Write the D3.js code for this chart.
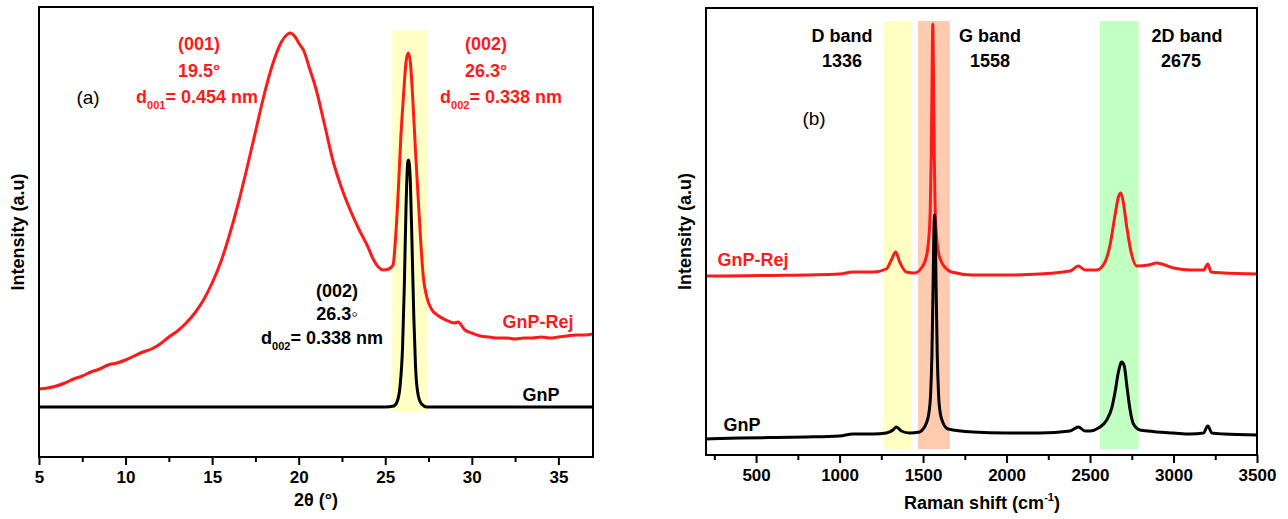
<!DOCTYPE html>
<html>
<head>
<meta charset="utf-8">
<script src="https://cdn.jsdelivr.net/npm/d3@7"></script>
<style>
  body { margin: 0; background: #fff; }
  svg { display: block; }
  text { font-family: "Liberation Sans", Arial, sans-serif; }
</style>
</head>
<body>
<svg id="fig" width="1288" height="519"></svg>
<script>
// ---- XRD panel (a) ----
var xrdTicks = [5, 10, 15, 20, 25, 30, 35];
var xrdMinor = [7.5, 12.5, 17.5, 22.5, 27.5, 32.5];
var xrdBand = [25.4, 27.45];

var xrdRejTheta = [5.0, 5.5, 6.0, 6.5, 7.0, 7.5, 8.0, 8.5, 9.0, 9.5, 10.0, 10.5, 11.0, 11.5, 12.0, 12.5,
  13.0, 13.5, 14.0, 14.5, 15.0, 15.5, 16.0, 16.5, 17.0, 17.5, 18.0, 18.5, 19.0, 19.3, 19.5, 19.8,
  20.0, 20.3, 20.6, 21.0, 21.5, 22.0, 22.5, 23.0, 23.5, 24.0, 24.3, 24.6, 24.9, 25.2, 25.45, 25.6,
  25.75, 25.9, 26.05, 26.2, 26.33, 26.45, 26.6, 26.75, 26.9, 27.05, 27.2, 27.4, 27.7, 28.0, 28.5,
  29.0, 29.2, 29.6, 30.0, 30.5, 31.0, 31.5, 32.0, 32.5, 33.0, 33.5, 34.0, 34.5, 35.0, 35.5, 36.0, 36.5, 37.0];
var xrdRejInt = [18, 19, 21, 24, 28, 31, 35, 38, 42, 44, 47, 51, 55, 58, 63, 70,
  76, 84, 94, 107, 124, 145, 172, 203, 238, 275, 312, 343, 365, 372, 374, 370,
  364, 356, 340, 318, 282, 245, 218, 196, 177, 160, 148, 140, 137, 138, 142, 170,
  215, 270, 310, 345, 354, 345, 305, 255, 210, 165, 130, 110, 97, 92, 87,
  84, 85, 77, 74, 71, 70, 69, 69, 68, 69, 69, 70, 69, 70, 71, 72, 72, 73];

var xrdGnpTheta = [5, 25.0, 25.5, 25.7, 25.85, 26.0, 26.1, 26.2, 26.3, 26.35, 26.45, 26.55, 26.65, 26.75, 26.9, 27.1, 27.4, 37];
var xrdGnpInt = [0, 0, 1, 6, 20, 60, 120, 200, 245, 247, 225, 160, 90, 40, 12, 3, 0, 0];

// ---- Raman panel (b) ----
var ramanTicks = [500, 1000, 1500, 2000, 2500, 3000, 3500];
var ramanMinor = [250, 750, 1250, 1750, 2250, 2750, 3250];
var ramanBands = [[1265, 1430], [1470, 1660], [2560, 2790]];

var ramanGnpShift = [200, 400, 600, 800, 1000, 1080, 1200, 1280, 1320, 1340, 1370, 1420, 1480, 1500, 1520,
  1535, 1545, 1553, 1560, 1565, 1569, 1573, 1578, 1585, 1593, 1603, 1620, 1650, 1800, 2000, 2200,
  2380, 2430, 2470, 2500, 2550, 2600, 2630, 2650, 2670, 2690, 2705, 2720, 2740, 2760, 2800, 2850,
  2900, 3000, 3100, 3180, 3205, 3230, 3300, 3500];
var ramanGnpInt = [16, 17, 17.5, 18, 19, 21, 21, 22, 25, 28, 24, 22, 23, 26, 32,
  42, 60, 100, 170, 225, 240, 225, 170, 100, 60, 42, 32, 26, 23, 22, 22,
  24, 28, 24, 24, 27, 35, 47, 63, 83, 93, 89, 70, 45, 31, 25, 24,
  23, 22, 21, 22, 29, 22, 21, 20];

var ramanRejShift = [200, 600, 1000, 1080, 1200, 1280, 1310, 1336, 1360, 1400, 1450, 1490, 1510, 1525,
  1535, 1543, 1549, 1553, 1556, 1558, 1560, 1563, 1567, 1572, 1580, 1592, 1610, 1635, 1670, 1800,
  2000, 2200, 2380, 2430, 2470, 2540, 2590, 2620, 2650, 2670, 2685, 2700, 2720, 2750, 2780, 2850,
  2900, 3000, 3100, 3180, 3205, 3225, 3300, 3500];
var ramanRejInt = [179, 179.5, 181, 183, 183, 186, 195, 203, 193, 183, 182, 187, 193, 203,
  218, 245, 300, 360, 410, 431, 420, 370, 300, 250, 220, 203, 193, 187, 183, 180,
  180, 181, 184, 189, 185, 185, 193, 210, 240, 258, 262, 252, 228, 200, 189, 190,
  192, 187, 185, 185, 191, 183, 182, 181];

var svg = d3.select("#fig");
var RED = "#ff1a1a";

function zip(xs, ys) { return xs.map(function (x, i) { return [x, ys[i]]; }); }

function panel(cfg) {
  var g = svg.append("g");
  var x = d3.scaleLinear().domain(cfg.xDomain).range([cfg.left, cfg.right]);
  var y = d3.scaleLinear().domain(cfg.yDomain).range([cfg.bottom, cfg.top]);
  var id = "clip" + cfg.name;
  g.append("clipPath").attr("id", id).append("rect")
    .attr("x", cfg.left).attr("y", cfg.top)
    .attr("width", cfg.right - cfg.left).attr("height", cfg.bottom - cfg.top);

  // shaded bands
  cfg.bands.forEach(function (b, i) {
    g.append("rect")
      .attr("x", x(b[0])).attr("width", x(b[1]) - x(b[0]))
      .attr("y", cfg.bandTop).attr("height", cfg.bandBottom - cfg.bandTop)
      .attr("fill", cfg.bandColors[i]);
  });

  var line = d3.line().x(function (d) { return x(d[0]); }).y(function (d) { return y(d[1]); })
    .curve(d3.curveMonotoneX);
  var lines = g.append("g").attr("clip-path", "url(#" + id + ")");
  cfg.series.forEach(function (s) {
    lines.append("path").attr("d", line(s.pts)).attr("fill", "none")
      .attr("stroke", s.color).attr("stroke-width", 3).attr("stroke-linejoin", "round");
  });

  // frame
  g.append("rect").attr("x", cfg.left).attr("y", cfg.top)
    .attr("width", cfg.right - cfg.left).attr("height", cfg.bottom - cfg.top)
    .attr("fill", "none").attr("stroke", "#000").attr("stroke-width", 2);

  var ax = g.append("g").attr("transform", "translate(0," + cfg.bottom + ")")
    .call(d3.axisBottom(x).tickValues(cfg.ticks).tickSize(8).tickPadding(6).tickFormat(d3.format("d")));
  ax.select(".domain").remove();
  ax.selectAll("line").attr("stroke-width", 2);
  ax.selectAll("text").attr("font-size", 17).attr("font-weight", "bold").attr("fill", "#000")
    .attr("font-family", "'Liberation Sans', Arial, sans-serif");
  var mn = g.append("g").attr("transform", "translate(0," + cfg.bottom + ")")
    .call(d3.axisBottom(x).tickValues(cfg.minor).tickSize(5).tickFormat(""));
  mn.select(".domain").remove();
  mn.selectAll("line").attr("stroke-width", 2);

  // y title
  g.append("text").attr("transform", "translate(" + cfg.yTitleX + "," + (cfg.top + cfg.bottom) / 2 + ") rotate(-90)")
    .attr("text-anchor", "middle").attr("font-size", 18).attr("font-weight", "bold").text("Intensity (a.u)");
  return g;
}

function label(g, x, y, txt, color, opts) {
  opts = opts || {};
  var t = g.append("text").attr("x", x).attr("y", y).attr("fill", color)
    .attr("font-size", opts.size || 18).attr("font-weight", opts.weight || "bold")
    .attr("text-anchor", opts.anchor || "middle");
  if (opts.font) t.attr("font-family", opts.font);
  if (opts.sub) {
    t.append("tspan").text(txt);
    t.append("tspan").attr("font-size", 11).attr("dy", 6).text(opts.sub);
    t.append("tspan").attr("dy", -6).text(opts.rest);
  } else {
    t.text(txt);
  }
  return t;
}

// ----- panel (a)
var ga = panel({
  name: "a", left: 39, right: 593, top: 7, bottom: 457,
  xDomain: [5, 37], yDomain: [-50, 400],
  ticks: xrdTicks, minor: xrdMinor,
  bands: [xrdBand], bandColors: ["#ffffc6"], bandTop: 30, bandBottom: 412,
  series: [
    { pts: zip(xrdRejTheta, xrdRejInt), color: RED },
    { pts: zip(xrdGnpTheta, xrdGnpInt), color: "#000" }
  ],
  yTitleX: 24
});
label(ga, 316, 506, "2\u03b8 (\u00b0)", "#000", { size: 18 });
label(ga, 88, 104, "(a)", "#000", { weight: "normal", size: 19, font: "'Open Sans', sans-serif" });
label(ga, 199, 50, "(001)", RED);
label(ga, 199, 77, "19.5\u00b0", RED);
label(ga, 197, 103, "d", RED, { sub: "001", rest: "= 0.454 nm" });
label(ga, 486, 50, "(002)", RED);
label(ga, 486, 77, "26.3\u00b0", RED);
label(ga, 501, 103, "d", RED, { sub: "002", rest: "= 0.338 nm" });
label(ga, 337, 297, "(002)", "#000");
label(ga, 337, 320, "26.3\u25e6", "#000");
label(ga, 322, 344, "d", "#000", { sub: "002", rest: "= 0.338 nm" });
label(ga, 538, 328, "GnP-Rej", RED);
label(ga, 541, 401, "GnP", "#000");

// ----- panel (b)
var gb = panel({
  name: "b", left: 706, right: 1257, top: 8, bottom: 455,
  xDomain: [200, 3500], yDomain: [0, 447],
  ticks: ramanTicks, minor: ramanMinor,
  bands: ramanBands, bandColors: ["#ffffc4", "#ffcbb0", "#c2ffc2"], bandTop: 21, bandBottom: 449,
  series: [
    { pts: zip(ramanRejShift, ramanRejInt), color: RED },
    { pts: zip(ramanGnpShift, ramanGnpInt), color: "#000" }
  ],
  yTitleX: 691
});
var xt = gb.append("text").attr("x", 982).attr("y", 509).attr("text-anchor", "middle")
  .attr("font-size", 18).attr("font-weight", "bold");
xt.append("tspan").text("Raman shift (cm");
xt.append("tspan").attr("font-size", 11).attr("dy", -8).text("-1");
xt.append("tspan").attr("dy", 8).text(")");
label(gb, 842, 42, "D band", "#000");
label(gb, 842, 67, "1336", "#000");
label(gb, 990, 42, "G band", "#000");
label(gb, 990, 67, "1558", "#000");
label(gb, 1187, 42, "2D band", "#000");
label(gb, 1181, 67, "2675", "#000");
label(gb, 814, 125, "(b)", "#000", { weight: "normal", size: 19, font: "'Open Sans', sans-serif" });
label(gb, 753, 266, "GnP-Rej", RED);
label(gb, 742, 431, "GnP", "#000");
</script>
</body>
</html>
